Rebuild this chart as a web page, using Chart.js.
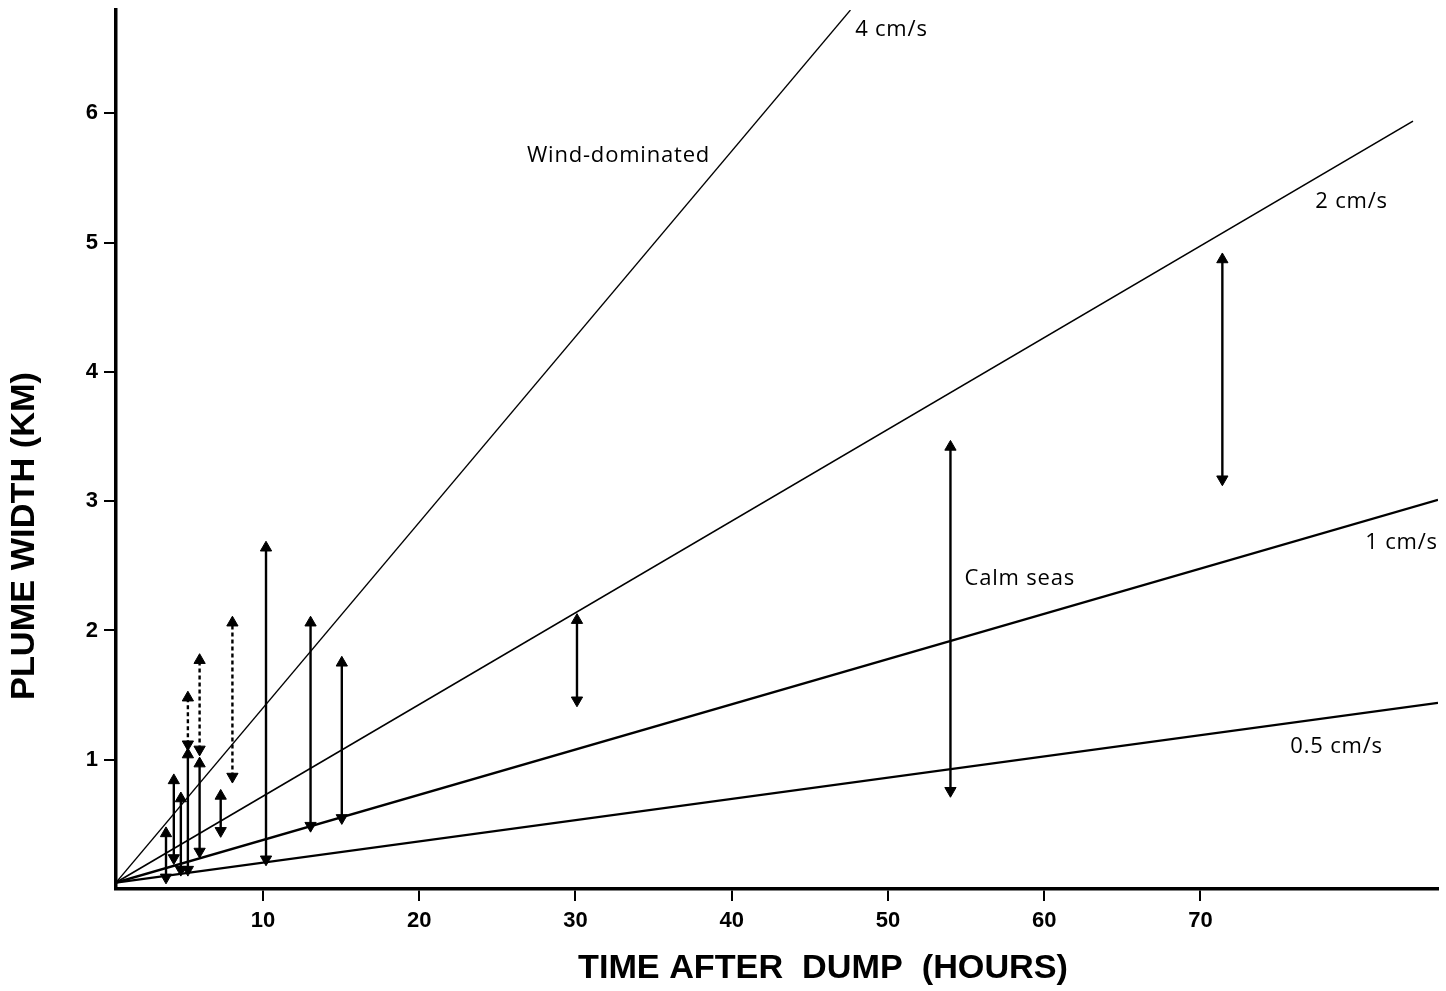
<!DOCTYPE html>
<html>
<head>
<meta charset="utf-8">
<script src="https://cdn.jsdelivr.net/npm/chart.js@4.4.0/dist/chart.umd.min.js"></script>
<style>
  html, body { margin: 0; padding: 0; background: #fff; }
  #wrap { width: 1446px; height: 991px; }
</style>
</head>
<body>
<div id="wrap"><canvas id="chart" width="1446" height="991"></canvas></div>
<script>
// current-speed lines, start and end points
const speedLabels = ['4 cm/s', '2 cm/s', '1 cm/s', '0.5 cm/s'];
const lineStartHour = 0.6;
const lineStartKm = 0.05;
const lineEndHour = [47.6, 83.6, 85.2, 85.2];
const lineEndKm = [6.8, 5.94, 3.01, 1.44];

// observed plume widths (double-headed arrows)
const arrowHour = [3.8, 4.3, 4.75, 5.2, 5.2, 5.95, 5.95, 7.3, 8.05, 10.2, 13.05, 15.05, 30.1, 54.0, 71.4];
const arrowLow = [0.09, 0.24, 0.15, 0.15, 1.12, 0.29, 1.08, 0.45, 0.87, 0.23, 0.49, 0.55, 1.46, 0.76, 3.17];
const arrowHigh = [0.43, 0.84, 0.70, 1.04, 1.48, 0.97, 1.77, 0.72, 2.06, 2.64, 2.06, 1.75, 2.08, 3.42, 4.87];
const arrowDashed = [false, false, false, false, true, false, true, false, true, false, false, false, false, false, false];

// axis ticks
const xTicks = [10, 20, 30, 40, 50, 60, 70];
const yTicks = [1, 2, 3, 4, 5, 6];

const xTitle = 'TIME AFTER  DUMP  (HOURS)';
const yTitle = 'PLUME WIDTH (KM)';

// text notes placed in data units
const notes = [
  { text: '4 cm/s', x: 47.9, y: 6.65 },
  { text: '2 cm/s', x: 77.35, y: 5.32 },
  { text: '1 cm/s', x: 80.55, y: 2.68 },
  { text: '0.5 cm/s', x: 75.75, y: 1.10 },
  { text: 'Wind-dominated', x: 26.9, y: 5.67 },
  { text: 'Calm seas', x: 54.9, y: 2.40 }
];

const lineWidths = [1.3, 1.6, 2.3, 2.3];

const datasets = [];
speedLabels.forEach((lbl, i) => {
  datasets.push({
    label: lbl,
    data: [{ x: lineStartHour, y: lineStartKm }, { x: lineEndHour[i], y: lineEndKm[i] }],
    borderColor: '#000',
    borderWidth: lineWidths[i],
    pointRadius: 0,
    fill: false
  });
});
arrowHour.forEach((h, i) => {
  datasets.push({
    label: 'obs' + i,
    data: [{ x: h, y: arrowLow[i] }, { x: h, y: arrowHigh[i] }],
    borderColor: '#000',
    backgroundColor: '#000',
    borderWidth: 2.4,
    borderDash: arrowDashed[i] ? [4, 3] : [],
    pointStyle: 'triangle',
    pointRadius: 6.5,
    pointBorderWidth: 1,
    pointRotation: [180, 0],
    fill: false
  });
});

const paperPlugin = {
  id: 'paper',
  beforeDraw(chart) {
    const ctx = chart.ctx;
    ctx.save();
    ctx.fillStyle = '#fff';
    ctx.fillRect(0, 0, chart.width, chart.height);
    ctx.restore();
  },
  afterDraw(chart) {
    const ctx = chart.ctx;
    const xs = chart.scales.x;
    const ys = chart.scales.y;
    const area = chart.chartArea;
    ctx.save();
    ctx.fillStyle = '#000';
    ctx.textBaseline = 'middle';
    ctx.textAlign = 'left';
    ctx.font = '22px "Open Sans"';
    ctx.letterSpacing = '0.8px';
    notes.forEach(n => {
      ctx.fillText(n.text, xs.getPixelForValue(n.x), ys.getPixelForValue(n.y));
    });
    ctx.letterSpacing = '0px';

    // axis titles, squeezed to the width they have in the figure
    ctx.font = 'bold 33px "Liberation Sans"';
    ctx.textAlign = 'center';
    let w = ctx.measureText(xTitle).width;
    ctx.save();
    ctx.translate(area.left + 707, area.bottom + 80);
    ctx.scale(490 / w, 1);
    ctx.fillText(xTitle, 0, 0);
    ctx.restore();

    w = ctx.measureText(yTitle).width;
    ctx.save();
    ctx.translate(25, 536);
    ctx.rotate(-Math.PI / 2);
    ctx.scale(328 / w, 1);
    ctx.fillText(yTitle, 0, 0);
    ctx.restore();
    ctx.restore();
  }
};

new Chart(document.getElementById('chart'), {
  type: 'line',
  data: { datasets: datasets },
  options: {
    responsive: false,
    animation: false,
    layout: { padding: { top: 10, right: 8, left: 0, bottom: 0 } },
    plugins: {
      legend: { display: false },
      tooltip: { enabled: false },
      title: { display: false }
    },
    elements: { line: { tension: 0 } },
    scales: {
      x: {
        type: 'linear',
        min: 0.6,
        max: 85.2,
        afterBuildTicks: (scale) => { scale.ticks = xTicks.map(v => ({ value: v })); },
        afterFit: (scale) => { scale.height = 102; scale.paddingLeft = 0; scale.paddingRight = 0; },
        border: { display: true, color: '#000', width: 3.5 },
        grid: { drawOnChartArea: false, drawTicks: true, tickLength: 12, color: '#000', lineWidth: 2 },
        ticks: { color: '#000', padding: 7, font: { family: 'Liberation Sans', size: 22, weight: 'bold' }, maxRotation: 0 }
      },
      y: {
        type: 'linear',
        min: 0,
        max: 6.8,
        afterBuildTicks: (scale) => { scale.ticks = yTicks.map(v => ({ value: v })); },
        afterFit: (scale) => { scale.width = 116; scale.paddingTop = 0; scale.paddingBottom = 0; },
        border: { display: true, color: '#000', width: 3.5 },
        grid: { drawOnChartArea: false, drawTicks: true, tickLength: 12, color: '#000', lineWidth: 2 },
        ticks: { color: '#000', padding: 6, font: { family: 'Liberation Sans', size: 22, weight: 'bold' } }
      }
    }
  },
  plugins: [paperPlugin]
});
</script>
</body>
</html>
